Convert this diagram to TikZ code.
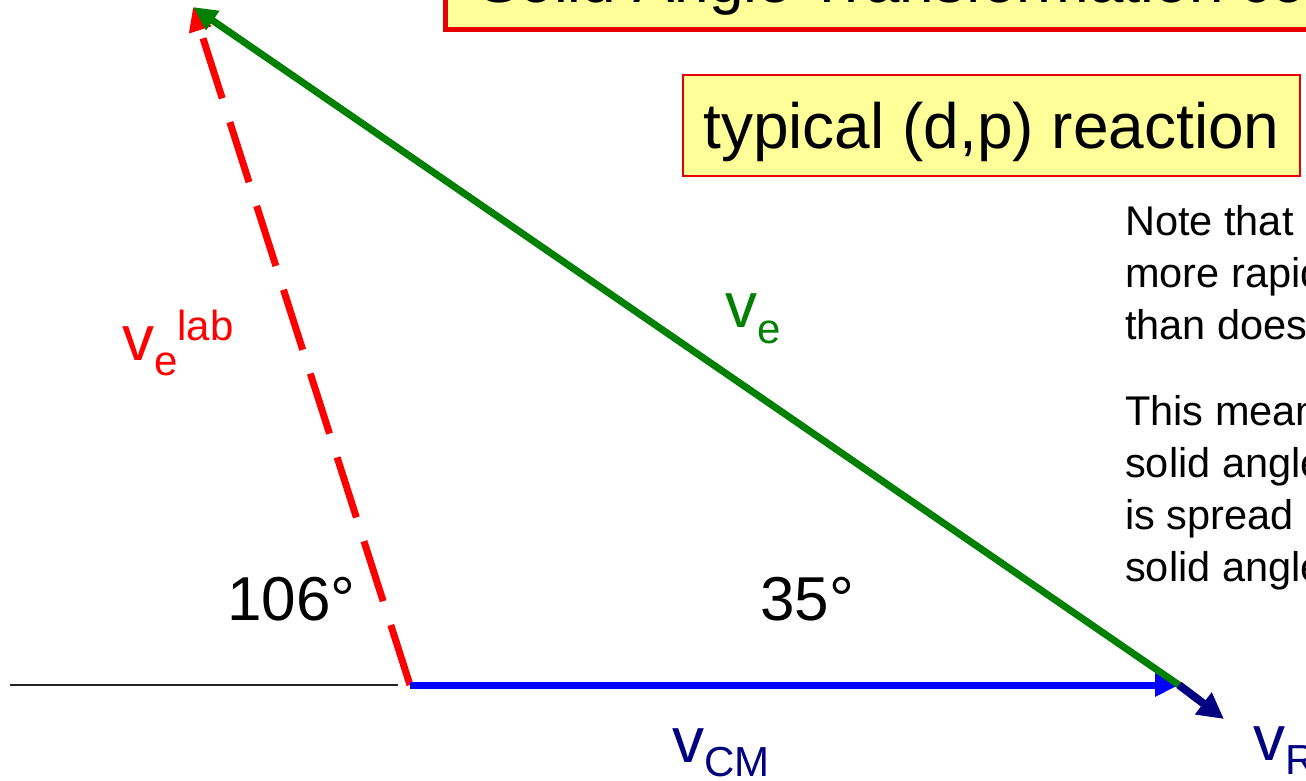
\documentclass[tikz,border=0pt]{standalone}
\usepackage{fontspec}
\setmainfont{Liberation Sans}
\usepackage{tikz}
\usetikzlibrary{arrows.meta,positioning}

\definecolor{vred}{RGB}{255,0,0}
\definecolor{vgreen}{RGB}{0,128,0}
\definecolor{vblue}{RGB}{0,0,255}
\definecolor{vnavy}{RGB}{0,0,128}
\definecolor{boxyellow}{RGB}{255,255,153}
\definecolor{boxred}{RGB}{232,0,0}

\tikzset{
  vec/.style={line width=7pt, -{Triangle[length=24pt,width=22pt]}},
  lbl/.style={inner sep=0pt, anchor=base west, font=\fontsize{64}{64}\selectfont},
  angl/.style={inner sep=0pt, anchor=base west, font=\fontsize{62}{62}\selectfont},
  notetext/.style={inner sep=0pt, anchor=base west, align=left, font=\fontsize{41.5}{52}\selectfont}
}

\begin{document}
\begin{tikzpicture}[x=1pt, y=-1pt]
    \clip (0,0) rectangle (1306,780);
    % title box, cut off by the top edge
    \draw[boxred, fill=boxyellow, line width=5pt] (445,-60) rectangle (1400,29.5);
    \node[lbl, font=\fontsize{62}{62}\selectfont] (title) at (478,2) {Solid Angle Transformation co};
    \node[draw=boxred, fill=boxyellow, line width=2.5pt, inner sep=0pt, anchor=base,
          minimum width=617pt, text height=73pt, text depth=28pt,
          font=\fontsize{64}{64}\selectfont] (dp) at (991.5,148) {typical (d,p) reaction};
    % base anchor of a multi-line node sits on its last line
    \node[notetext] (note) at (1125,339) {Note that\\more rapidly\\than does};
    \node[notetext] (means) at (1125,581) {This means\\solid angle\\is spread\\solid angle};
    % velocity triangle
    \coordinate (O) at (410,685);
    \coordinate (tip) at (193,7);
    \coordinate (cm) at (1179,685);
    \coordinate (rtip) at (1224,719);
    \coordinate (base) at (10,685);
    \coordinate (baseend) at (398,685);
    \draw[black!85, line width=1.6pt] (base) -- (baseend);
    \draw[vec, vred, dash pattern=on 63pt off 25pt] (O) -- (tip);
    \draw[vec, vblue] (O) -- (cm);
    \draw[vec, vgreen] (cm) -- (tip);
    \draw[vec, vnavy, line width=8pt, -{Triangle[length=26pt,width=26pt]}] (cm) -- (rtip);
    % labels
    \node[lbl, text=vred] (velab) at (122,360)
      {v\raisebox{-15pt}{\fontsize{42}{42}\selectfont e}\raisebox{20pt}{\fontsize{42}{42}\selectfont lab}};
    \node[lbl, text=vgreen] (ve) at (725,327)
      {v\raisebox{-16pt}{\fontsize{42}{42}\selectfont e}};
    \node[lbl, text=vnavy] (vcm) at (672,762)
      {v\raisebox{-14pt}{\fontsize{42}{42}\selectfont CM}};
    \node[lbl, text=vnavy] (vr) at (1253,760)
      {v\raisebox{-14pt}{\fontsize{42}{42}\selectfont R}};
    \node[angl] (lab106) at (227,620) {106°};
    \node[angl] (lab35) at (760,620) {35°};
\end{tikzpicture}
\end{document}
